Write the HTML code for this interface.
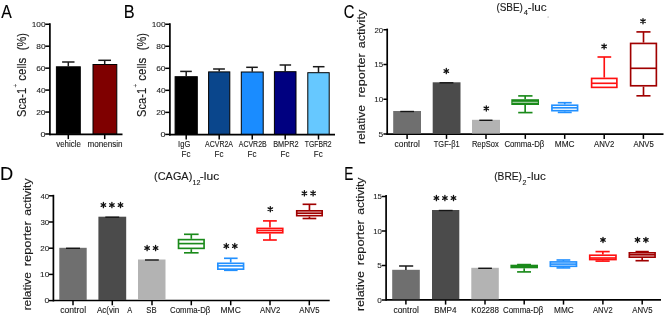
<!DOCTYPE html>
<html><head><meta charset="utf-8"><title>Figure</title>
<style>
html,body{margin:0;padding:0;background:#fff;}
body{width:668px;height:317px;overflow:hidden;}
svg{display:block;font-family:"Liberation Sans", sans-serif;will-change:transform;}
</style></head>
<body>
<svg width="668" height="317" viewBox="0 0 668 317">
<rect x="0" y="0" width="668" height="317" fill="#fff"/>
<text x="1.27" y="17.7" font-size="17.5" fill="#000" stroke="#000" stroke-width="0.1" textLength="10.56" lengthAdjust="spacingAndGlyphs">A</text>
<text transform="rotate(-90)" x="-116.9" y="25.7" font-size="12.2" fill="#1a1a1a" stroke="#1a1a1a" stroke-width="0.15" textLength="29.05" lengthAdjust="spacingAndGlyphs">Sca-1</text>
<text x="0" y="0" font-size="6.5" fill="#222" transform="translate(18.3,87.6) rotate(-90)">+</text>
<text transform="rotate(-90)" x="-80.69" y="25.7" font-size="12.2" fill="#1a1a1a" stroke="#1a1a1a" stroke-width="0.15" textLength="23" lengthAdjust="spacingAndGlyphs">cells</text>
<text transform="rotate(-90)" x="-50.28" y="25.9" font-size="12.8" fill="#1a1a1a" stroke="#1a1a1a" stroke-width="0.15" textLength="17.06" lengthAdjust="spacingAndGlyphs">(%)</text>
<line x1="49.9" y1="23.3" x2="49.9" y2="135.2" stroke="#000" stroke-width="1.7" stroke-linecap="butt"/>
<line x1="45.2" y1="134" x2="49.9" y2="134" stroke="#000" stroke-width="1.5" stroke-linecap="butt"/>
<line x1="45.2" y1="112.05" x2="49.9" y2="112.05" stroke="#000" stroke-width="1.5" stroke-linecap="butt"/>
<line x1="45.2" y1="90.1" x2="49.9" y2="90.1" stroke="#000" stroke-width="1.5" stroke-linecap="butt"/>
<line x1="45.2" y1="68.15" x2="49.9" y2="68.15" stroke="#000" stroke-width="1.5" stroke-linecap="butt"/>
<line x1="45.2" y1="46.2" x2="49.9" y2="46.2" stroke="#000" stroke-width="1.5" stroke-linecap="butt"/>
<line x1="45.2" y1="24.25" x2="49.9" y2="24.25" stroke="#000" stroke-width="1.5" stroke-linecap="butt"/>
<text x="40.55" y="136.75" font-size="8" fill="#222" stroke="#222" stroke-width="0.08" textLength="5" lengthAdjust="spacingAndGlyphs">0</text>
<text x="36.18" y="114.8" font-size="8" fill="#222" stroke="#222" stroke-width="0.08" textLength="9.35" lengthAdjust="spacingAndGlyphs">20</text>
<text x="36.41" y="92.85" font-size="8" fill="#222" stroke="#222" stroke-width="0.08" textLength="9.11" lengthAdjust="spacingAndGlyphs">40</text>
<text x="36.17" y="70.9" font-size="8" fill="#222" stroke="#222" stroke-width="0.08" textLength="9.36" lengthAdjust="spacingAndGlyphs">60</text>
<text x="36.24" y="48.95" font-size="8" fill="#222" stroke="#222" stroke-width="0.08" textLength="9.29" lengthAdjust="spacingAndGlyphs">80</text>
<text x="31.67" y="27" font-size="8" fill="#222" stroke="#222" stroke-width="0.08" textLength="13.86" lengthAdjust="spacingAndGlyphs">100</text>
<line x1="49.2" y1="134.3" x2="122.5" y2="134.3" stroke="#000" stroke-width="1.7" stroke-linecap="butt"/>
<line x1="68.3" y1="134.3" x2="68.3" y2="139.1" stroke="#000" stroke-width="1.5" stroke-linecap="butt"/>
<line x1="104.7" y1="134.3" x2="104.7" y2="139.1" stroke="#000" stroke-width="1.5" stroke-linecap="butt"/>
<rect x="56.4" y="66.8" width="23.9" height="67" fill="#000" stroke="#000" stroke-width="1"/>
<line x1="68.3" y1="62" x2="68.3" y2="66.5" stroke="#1a1a1a" stroke-width="1.5" stroke-linecap="butt"/>
<line x1="62.1" y1="62" x2="74.5" y2="62" stroke="#1a1a1a" stroke-width="1.5" stroke-linecap="butt"/>
<rect x="93" y="64.5" width="23.8" height="69.3" fill="#7f0000" stroke="#000" stroke-width="1"/>
<line x1="104.7" y1="60.3" x2="104.7" y2="64.2" stroke="#1a1a1a" stroke-width="1.5" stroke-linecap="butt"/>
<line x1="98.3" y1="60.3" x2="111" y2="60.3" stroke="#1a1a1a" stroke-width="1.5" stroke-linecap="butt"/>
<text x="56.27" y="146.7" font-size="8.8" fill="#1a1a1a" stroke="#1a1a1a" stroke-width="0.12" textLength="24.58" lengthAdjust="spacingAndGlyphs">vehicle</text>
<text x="87.46" y="146.7" font-size="8.8" fill="#1a1a1a" stroke="#1a1a1a" stroke-width="0.12" textLength="35.06" lengthAdjust="spacingAndGlyphs">monensin</text>
<text x="123.76" y="17.7" font-size="17.5" fill="#000" stroke="#000" stroke-width="0.1" textLength="10.9" lengthAdjust="spacingAndGlyphs">B</text>
<text transform="rotate(-90)" x="-116.9" y="145.7" font-size="12.2" fill="#1a1a1a" stroke="#1a1a1a" stroke-width="0.15" textLength="29.05" lengthAdjust="spacingAndGlyphs">Sca-1</text>
<text x="0" y="0" font-size="6.5" fill="#222" transform="translate(138.3,87.6) rotate(-90)">+</text>
<text transform="rotate(-90)" x="-80.69" y="145.7" font-size="12.2" fill="#1a1a1a" stroke="#1a1a1a" stroke-width="0.15" textLength="23" lengthAdjust="spacingAndGlyphs">cells</text>
<text transform="rotate(-90)" x="-50.28" y="145.9" font-size="12.8" fill="#1a1a1a" stroke="#1a1a1a" stroke-width="0.15" textLength="17.06" lengthAdjust="spacingAndGlyphs">(%)</text>
<line x1="169.9" y1="23.3" x2="169.9" y2="135.6" stroke="#000" stroke-width="1.7" stroke-linecap="butt"/>
<line x1="165.2" y1="134.4" x2="169.9" y2="134.4" stroke="#000" stroke-width="1.5" stroke-linecap="butt"/>
<line x1="165.2" y1="112.37" x2="169.9" y2="112.37" stroke="#000" stroke-width="1.5" stroke-linecap="butt"/>
<line x1="165.2" y1="90.34" x2="169.9" y2="90.34" stroke="#000" stroke-width="1.5" stroke-linecap="butt"/>
<line x1="165.2" y1="68.31" x2="169.9" y2="68.31" stroke="#000" stroke-width="1.5" stroke-linecap="butt"/>
<line x1="165.2" y1="46.28" x2="169.9" y2="46.28" stroke="#000" stroke-width="1.5" stroke-linecap="butt"/>
<line x1="165.2" y1="24.25" x2="169.9" y2="24.25" stroke="#000" stroke-width="1.5" stroke-linecap="butt"/>
<text x="160.55" y="137.15" font-size="8" fill="#222" stroke="#222" stroke-width="0.08" textLength="5" lengthAdjust="spacingAndGlyphs">0</text>
<text x="156.18" y="115.12" font-size="8" fill="#222" stroke="#222" stroke-width="0.08" textLength="9.35" lengthAdjust="spacingAndGlyphs">20</text>
<text x="156.41" y="93.09" font-size="8" fill="#222" stroke="#222" stroke-width="0.08" textLength="9.11" lengthAdjust="spacingAndGlyphs">40</text>
<text x="156.17" y="71.06" font-size="8" fill="#222" stroke="#222" stroke-width="0.08" textLength="9.36" lengthAdjust="spacingAndGlyphs">60</text>
<text x="156.24" y="49.03" font-size="8" fill="#222" stroke="#222" stroke-width="0.08" textLength="9.29" lengthAdjust="spacingAndGlyphs">80</text>
<text x="151.67" y="27" font-size="8" fill="#222" stroke="#222" stroke-width="0.08" textLength="13.86" lengthAdjust="spacingAndGlyphs">100</text>
<line x1="169" y1="134.7" x2="335" y2="134.7" stroke="#000" stroke-width="1.7" stroke-linecap="butt"/>
<line x1="186.2" y1="134.7" x2="186.2" y2="139.5" stroke="#000" stroke-width="1.5" stroke-linecap="butt"/>
<line x1="219.2" y1="134.7" x2="219.2" y2="139.5" stroke="#000" stroke-width="1.5" stroke-linecap="butt"/>
<line x1="252.25" y1="134.7" x2="252.25" y2="139.5" stroke="#000" stroke-width="1.5" stroke-linecap="butt"/>
<line x1="285.2" y1="134.7" x2="285.2" y2="139.5" stroke="#000" stroke-width="1.5" stroke-linecap="butt"/>
<line x1="318.5" y1="134.7" x2="318.5" y2="139.5" stroke="#000" stroke-width="1.5" stroke-linecap="butt"/>
<rect x="175.1" y="76.7" width="22.2" height="57.5" fill="#000" stroke="#000" stroke-width="1"/>
<line x1="186.2" y1="71.4" x2="186.2" y2="76.4" stroke="#1a1a1a" stroke-width="1.5" stroke-linecap="butt"/>
<line x1="180.2" y1="71.4" x2="191.8" y2="71.4" stroke="#1a1a1a" stroke-width="1.5" stroke-linecap="butt"/>
<text x="178.1" y="146.6" font-size="8.8" fill="#1a1a1a" stroke="#1a1a1a" stroke-width="0.12" textLength="12.16" lengthAdjust="spacingAndGlyphs">IgG</text>
<text x="181.55" y="156.6" font-size="8.8" fill="#1a1a1a" stroke="#1a1a1a" stroke-width="0.12" textLength="8.87" lengthAdjust="spacingAndGlyphs">Fc</text>
<rect x="208.6" y="71.9" width="21.2" height="62.3" fill="#0a468c" stroke="#000" stroke-width="1"/>
<line x1="219.2" y1="69" x2="219.2" y2="71.6" stroke="#1a1a1a" stroke-width="1.5" stroke-linecap="butt"/>
<line x1="213.1" y1="69" x2="224.9" y2="69" stroke="#1a1a1a" stroke-width="1.5" stroke-linecap="butt"/>
<text x="205.09" y="146.6" font-size="8.8" fill="#1a1a1a" stroke="#1a1a1a" stroke-width="0.12" textLength="27.93" lengthAdjust="spacingAndGlyphs">ACVR2A</text>
<text x="214.55" y="156.6" font-size="8.8" fill="#1a1a1a" stroke="#1a1a1a" stroke-width="0.12" textLength="8.87" lengthAdjust="spacingAndGlyphs">Fc</text>
<rect x="241.3" y="72" width="21.9" height="62.2" fill="#1a8cff" stroke="#000" stroke-width="1"/>
<line x1="252.25" y1="67.3" x2="252.25" y2="71.7" stroke="#1a1a1a" stroke-width="1.5" stroke-linecap="butt"/>
<line x1="246.2" y1="67.3" x2="257.8" y2="67.3" stroke="#1a1a1a" stroke-width="1.5" stroke-linecap="butt"/>
<text x="238.79" y="146.6" font-size="8.8" fill="#1a1a1a" stroke="#1a1a1a" stroke-width="0.12" textLength="27.88" lengthAdjust="spacingAndGlyphs">ACVR2B</text>
<text x="247.6" y="156.6" font-size="8.8" fill="#1a1a1a" stroke="#1a1a1a" stroke-width="0.12" textLength="8.87" lengthAdjust="spacingAndGlyphs">Fc</text>
<rect x="274.4" y="71.7" width="21.6" height="62.5" fill="#000080" stroke="#000" stroke-width="1"/>
<line x1="285.2" y1="65" x2="285.2" y2="71.4" stroke="#1a1a1a" stroke-width="1.5" stroke-linecap="butt"/>
<line x1="279.6" y1="65" x2="291.1" y2="65" stroke="#1a1a1a" stroke-width="1.5" stroke-linecap="butt"/>
<text x="273.2" y="146.6" font-size="8.8" fill="#1a1a1a" stroke="#1a1a1a" stroke-width="0.12" textLength="25.37" lengthAdjust="spacingAndGlyphs">BMPR2</text>
<text x="280.55" y="156.6" font-size="8.8" fill="#1a1a1a" stroke="#1a1a1a" stroke-width="0.12" textLength="8.87" lengthAdjust="spacingAndGlyphs">Fc</text>
<rect x="307.8" y="72.7" width="21.4" height="61.5" fill="#66c8ff" stroke="#000" stroke-width="1"/>
<line x1="318.5" y1="66.7" x2="318.5" y2="72.4" stroke="#1a1a1a" stroke-width="1.5" stroke-linecap="butt"/>
<line x1="312.9" y1="66.7" x2="324.5" y2="66.7" stroke="#1a1a1a" stroke-width="1.5" stroke-linecap="butt"/>
<text x="304.85" y="146.6" font-size="8.8" fill="#1a1a1a" stroke="#1a1a1a" stroke-width="0.12" textLength="26.79" lengthAdjust="spacingAndGlyphs">TGFBR2</text>
<text x="313.85" y="156.6" font-size="8.8" fill="#1a1a1a" stroke="#1a1a1a" stroke-width="0.12" textLength="8.87" lengthAdjust="spacingAndGlyphs">Fc</text>
<text x="343.85" y="17.6" font-size="17.5" fill="#000" stroke="#000" stroke-width="0.1" textLength="10.61" lengthAdjust="spacingAndGlyphs">C</text>
<text transform="rotate(-90)" x="-144" y="365" font-size="11.5" fill="#1a1a1a" stroke="#1a1a1a" stroke-width="0.15" textLength="38.94" lengthAdjust="spacingAndGlyphs">relative</text>
<text transform="rotate(-90)" x="-97.64" y="365" font-size="11.5" fill="#1a1a1a" stroke="#1a1a1a" stroke-width="0.15" textLength="44.45" lengthAdjust="spacingAndGlyphs">reporter</text>
<text transform="rotate(-90)" x="-48.34" y="365" font-size="11.5" fill="#1a1a1a" stroke="#1a1a1a" stroke-width="0.15" textLength="38.56" lengthAdjust="spacingAndGlyphs">activity</text>
<text x="496.38" y="10.8" font-size="10.2" fill="#1a1a1a" stroke="#1a1a1a" stroke-width="0.12" textLength="26.53" lengthAdjust="spacingAndGlyphs">(SBE)</text>
<text x="523.83" y="14.7" font-size="6.6" fill="#1a1a1a" stroke="#1a1a1a" stroke-width="0.12" textLength="4.19" lengthAdjust="spacingAndGlyphs">4</text>
<text x="527.88" y="10.8" font-size="10.2" fill="#1a1a1a" stroke="#1a1a1a" stroke-width="0.12" textLength="18.83" lengthAdjust="spacingAndGlyphs">-luc</text>
<line x1="387.2" y1="28.6" x2="387.2" y2="134.9" stroke="#000" stroke-width="1.7" stroke-linecap="butt"/>
<line x1="383.4" y1="134" x2="387.2" y2="134" stroke="#000" stroke-width="1.5" stroke-linecap="butt"/>
<line x1="383.4" y1="99.25" x2="387.2" y2="99.25" stroke="#000" stroke-width="1.5" stroke-linecap="butt"/>
<line x1="383.4" y1="64.5" x2="387.2" y2="64.5" stroke="#000" stroke-width="1.5" stroke-linecap="butt"/>
<line x1="383.4" y1="29.75" x2="387.2" y2="29.75" stroke="#000" stroke-width="1.5" stroke-linecap="butt"/>
<text x="378.56" y="136.75" font-size="8" fill="#222" stroke="#222" stroke-width="0.08" textLength="4.69" lengthAdjust="spacingAndGlyphs">5</text>
<text x="374.29" y="102" font-size="8" fill="#222" stroke="#222" stroke-width="0.08" textLength="8.92" lengthAdjust="spacingAndGlyphs">10</text>
<text x="374.29" y="67.25" font-size="8" fill="#222" stroke="#222" stroke-width="0.08" textLength="8.95" lengthAdjust="spacingAndGlyphs">15</text>
<text x="374.51" y="32.5" font-size="8" fill="#222" stroke="#222" stroke-width="0.08" textLength="8.7" lengthAdjust="spacingAndGlyphs">20</text>
<line x1="386.5" y1="134.1" x2="663.5" y2="134.1" stroke="#000" stroke-width="1.7" stroke-linecap="butt"/>
<line x1="407.1" y1="134.1" x2="407.1" y2="138.9" stroke="#000" stroke-width="1.5" stroke-linecap="butt"/>
<line x1="446.5" y1="134.1" x2="446.5" y2="138.9" stroke="#000" stroke-width="1.5" stroke-linecap="butt"/>
<line x1="486" y1="134.1" x2="486" y2="138.9" stroke="#000" stroke-width="1.5" stroke-linecap="butt"/>
<line x1="525.3" y1="134.1" x2="525.3" y2="138.9" stroke="#000" stroke-width="1.5" stroke-linecap="butt"/>
<line x1="564.7" y1="134.1" x2="564.7" y2="138.9" stroke="#000" stroke-width="1.5" stroke-linecap="butt"/>
<line x1="604.2" y1="134.1" x2="604.2" y2="138.9" stroke="#000" stroke-width="1.5" stroke-linecap="butt"/>
<line x1="643.4" y1="134.1" x2="643.4" y2="138.9" stroke="#000" stroke-width="1.5" stroke-linecap="butt"/>
<rect x="393.2" y="111" width="27.8" height="22.5" fill="#6f6f6f"/>
<line x1="400.3" y1="111.5" x2="414" y2="111.5" stroke="#151515" stroke-width="1.4" stroke-linecap="butt"/>
<rect x="432.7" y="82.3" width="27.8" height="51.2" fill="#4b4b4b"/>
<line x1="439.5" y1="82.8" x2="453.4" y2="82.8" stroke="#151515" stroke-width="1.4" stroke-linecap="butt"/>
<rect x="472" y="119.8" width="28" height="13.7" fill="#b3b3b3"/>
<line x1="479.3" y1="120.3" x2="492.5" y2="120.3" stroke="#151515" stroke-width="1.4" stroke-linecap="butt"/>
<line x1="525.15" y1="95.9" x2="525.15" y2="99.2" stroke="#1a8a1a" stroke-width="1.65" stroke-linecap="butt"/>
<line x1="518.2" y1="95.9" x2="532.5" y2="95.9" stroke="#1a8a1a" stroke-width="1.65" stroke-linecap="butt"/>
<line x1="525.15" y1="105" x2="525.15" y2="112.6" stroke="#1a8a1a" stroke-width="1.65" stroke-linecap="butt"/>
<line x1="518.2" y1="112.6" x2="532.5" y2="112.6" stroke="#1a8a1a" stroke-width="1.65" stroke-linecap="butt"/>
<rect x="512.12" y="100.03" width="26.05" height="4.15" fill="#1a8a1a" stroke="#1a8a1a" stroke-width="1.65"/>
<line x1="512.12" y1="101.8" x2="538.17" y2="101.8" stroke="#1a8a1a" stroke-width="1.65" stroke-linecap="butt"/>
<line x1="512.5" y1="102.3" x2="537.8" y2="102.3" stroke="#cfe6cf" stroke-width="0.9" stroke-linecap="butt"/>
<line x1="564.75" y1="102.7" x2="564.75" y2="104.4" stroke="#2290ff" stroke-width="1.65" stroke-linecap="butt"/>
<line x1="557.8" y1="102.7" x2="571.7" y2="102.7" stroke="#2290ff" stroke-width="1.65" stroke-linecap="butt"/>
<line x1="564.75" y1="111.5" x2="564.75" y2="112.4" stroke="#2290ff" stroke-width="1.65" stroke-linecap="butt"/>
<line x1="557.8" y1="112.4" x2="571.7" y2="112.4" stroke="#2290ff" stroke-width="1.65" stroke-linecap="butt"/>
<rect x="551.93" y="105.23" width="25.65" height="5.45" fill="none" stroke="#2290ff" stroke-width="1.65"/>
<line x1="551.93" y1="107.8" x2="577.57" y2="107.8" stroke="#2290ff" stroke-width="1.65" stroke-linecap="butt"/>
<line x1="604.25" y1="57" x2="604.25" y2="77.6" stroke="#ff1010" stroke-width="1.65" stroke-linecap="butt"/>
<line x1="597.5" y1="57" x2="611.2" y2="57" stroke="#ff1010" stroke-width="1.65" stroke-linecap="butt"/>
<rect x="591.62" y="78.42" width="25.25" height="8.95" fill="none" stroke="#ff1010" stroke-width="1.65"/>
<line x1="591.62" y1="83.3" x2="616.88" y2="83.3" stroke="#ff1010" stroke-width="1.65" stroke-linecap="butt"/>
<line x1="643.5" y1="31.9" x2="643.5" y2="42.6" stroke="#a00000" stroke-width="1.65" stroke-linecap="butt"/>
<line x1="636.4" y1="31.9" x2="650.5" y2="31.9" stroke="#a00000" stroke-width="1.65" stroke-linecap="butt"/>
<line x1="643.5" y1="86.6" x2="643.5" y2="95.8" stroke="#a00000" stroke-width="1.65" stroke-linecap="butt"/>
<line x1="636.4" y1="95.8" x2="650.5" y2="95.8" stroke="#a00000" stroke-width="1.65" stroke-linecap="butt"/>
<rect x="630.62" y="43.43" width="25.75" height="42.35" fill="none" stroke="#a00000" stroke-width="1.65"/>
<line x1="630.62" y1="68.3" x2="656.38" y2="68.3" stroke="#a00000" stroke-width="1.65" stroke-linecap="butt"/>
<path d="M446.3 73.7L446.3 68.5M444.05 72.4L448.55 69.8M444.05 69.8L448.55 72.4" stroke="#111" stroke-width="1.3" stroke-linecap="round" fill="none"/>
<path d="M486.3 111L486.3 105.8M484.05 109.7L488.55 107.1M484.05 107.1L488.55 109.7" stroke="#111" stroke-width="1.3" stroke-linecap="round" fill="none"/>
<path d="M604.1 49L604.1 43.8M601.85 47.7L606.35 45.1M601.85 45.1L606.35 47.7" stroke="#111" stroke-width="1.3" stroke-linecap="round" fill="none"/>
<path d="M643 23.8L643 18.6M640.75 22.5L645.25 19.9M640.75 19.9L645.25 22.5" stroke="#111" stroke-width="1.3" stroke-linecap="round" fill="none"/>
<circle cx="548.1" cy="17" r="0.6" fill="#888"/>
<text x="394.54" y="146.9" font-size="8.8" fill="#1a1a1a" stroke="#1a1a1a" stroke-width="0.12" textLength="25.22" lengthAdjust="spacingAndGlyphs">control</text>
<text x="433.83" y="146.9" font-size="8.8" fill="#1a1a1a" stroke="#1a1a1a" stroke-width="0.12" textLength="25.73" lengthAdjust="spacingAndGlyphs">TGF-β1</text>
<text x="471.88" y="146.9" font-size="8.8" fill="#1a1a1a" stroke="#1a1a1a" stroke-width="0.12" textLength="26.9" lengthAdjust="spacingAndGlyphs">RepSox</text>
<text x="504.41" y="146.9" font-size="8.8" fill="#1a1a1a" stroke="#1a1a1a" stroke-width="0.12" textLength="39.9" lengthAdjust="spacingAndGlyphs">Comma-Dβ</text>
<text x="554.82" y="146.9" font-size="8.8" fill="#1a1a1a" stroke="#1a1a1a" stroke-width="0.12" textLength="19.8" lengthAdjust="spacingAndGlyphs">MMC</text>
<text x="593.98" y="146.9" font-size="8.8" fill="#1a1a1a" stroke="#1a1a1a" stroke-width="0.12" textLength="20.41" lengthAdjust="spacingAndGlyphs">ANV2</text>
<text x="633.48" y="146.9" font-size="8.8" fill="#1a1a1a" stroke="#1a1a1a" stroke-width="0.12" textLength="20.34" lengthAdjust="spacingAndGlyphs">ANV5</text>
<text x="-0.1" y="179.5" font-size="17.5" fill="#000" stroke="#000" stroke-width="0.1" textLength="13.17" lengthAdjust="spacingAndGlyphs">D</text>
<text transform="rotate(-90)" x="-310.39" y="30.7" font-size="11.5" fill="#1a1a1a" stroke="#1a1a1a" stroke-width="0.15" textLength="38.21" lengthAdjust="spacingAndGlyphs">relative</text>
<text transform="rotate(-90)" x="-266.25" y="30.7" font-size="11.5" fill="#1a1a1a" stroke="#1a1a1a" stroke-width="0.15" textLength="44.97" lengthAdjust="spacingAndGlyphs">reporter</text>
<text transform="rotate(-90)" x="-215.72" y="30.7" font-size="11.5" fill="#1a1a1a" stroke="#1a1a1a" stroke-width="0.15" textLength="37.24" lengthAdjust="spacingAndGlyphs">activity</text>
<text x="154.12" y="180.2" font-size="10.2" fill="#1a1a1a" stroke="#1a1a1a" stroke-width="0.12" textLength="38.15" lengthAdjust="spacingAndGlyphs">(CAGA)</text>
<text x="192.46" y="184.6" font-size="6.4" fill="#1a1a1a" stroke="#1a1a1a" stroke-width="0.12" textLength="7.9" lengthAdjust="spacingAndGlyphs">12</text>
<text x="199.87" y="180.2" font-size="10.2" fill="#1a1a1a" stroke="#1a1a1a" stroke-width="0.12" textLength="19.35" lengthAdjust="spacingAndGlyphs">-luc</text>
<line x1="53.4" y1="194.8" x2="53.4" y2="301.4" stroke="#000" stroke-width="1.7" stroke-linecap="butt"/>
<line x1="48.9" y1="300.6" x2="53.4" y2="300.6" stroke="#000" stroke-width="1.5" stroke-linecap="butt"/>
<line x1="48.9" y1="274.4" x2="53.4" y2="274.4" stroke="#000" stroke-width="1.5" stroke-linecap="butt"/>
<line x1="48.9" y1="248.2" x2="53.4" y2="248.2" stroke="#000" stroke-width="1.5" stroke-linecap="butt"/>
<line x1="48.9" y1="222" x2="53.4" y2="222" stroke="#000" stroke-width="1.5" stroke-linecap="butt"/>
<line x1="48.9" y1="195.8" x2="53.4" y2="195.8" stroke="#000" stroke-width="1.5" stroke-linecap="butt"/>
<text x="44.46" y="303.35" font-size="8" fill="#222" stroke="#222" stroke-width="0.08" textLength="4.77" lengthAdjust="spacingAndGlyphs">0</text>
<text x="40.07" y="277.15" font-size="8" fill="#222" stroke="#222" stroke-width="0.08" textLength="9.15" lengthAdjust="spacingAndGlyphs">10</text>
<text x="40.3" y="250.95" font-size="8" fill="#222" stroke="#222" stroke-width="0.08" textLength="8.92" lengthAdjust="spacingAndGlyphs">20</text>
<text x="40.4" y="224.75" font-size="8" fill="#222" stroke="#222" stroke-width="0.08" textLength="8.81" lengthAdjust="spacingAndGlyphs">30</text>
<text x="40.52" y="198.55" font-size="8" fill="#222" stroke="#222" stroke-width="0.08" textLength="8.68" lengthAdjust="spacingAndGlyphs">40</text>
<line x1="53" y1="300.5" x2="329.7" y2="300.5" stroke="#000" stroke-width="1.7" stroke-linecap="butt"/>
<line x1="73" y1="300.5" x2="73" y2="305.3" stroke="#000" stroke-width="1.5" stroke-linecap="butt"/>
<line x1="112.3" y1="300.5" x2="112.3" y2="305.3" stroke="#000" stroke-width="1.5" stroke-linecap="butt"/>
<line x1="152" y1="300.5" x2="152" y2="305.3" stroke="#000" stroke-width="1.5" stroke-linecap="butt"/>
<line x1="191.3" y1="300.5" x2="191.3" y2="305.3" stroke="#000" stroke-width="1.5" stroke-linecap="butt"/>
<line x1="230.7" y1="300.5" x2="230.7" y2="305.3" stroke="#000" stroke-width="1.5" stroke-linecap="butt"/>
<line x1="270" y1="300.5" x2="270" y2="305.3" stroke="#000" stroke-width="1.5" stroke-linecap="butt"/>
<line x1="309.3" y1="300.5" x2="309.3" y2="305.3" stroke="#000" stroke-width="1.5" stroke-linecap="butt"/>
<rect x="59.3" y="247.8" width="27.4" height="52.2" fill="#6f6f6f"/>
<line x1="66" y1="248.3" x2="80" y2="248.3" stroke="#151515" stroke-width="1.4" stroke-linecap="butt"/>
<rect x="98.4" y="216.7" width="27.8" height="83.3" fill="#4b4b4b"/>
<line x1="105.3" y1="217.2" x2="119.2" y2="217.2" stroke="#151515" stroke-width="1.4" stroke-linecap="butt"/>
<rect x="138" y="259.5" width="27.5" height="40.5" fill="#b3b3b3"/>
<line x1="145" y1="260" x2="158.8" y2="260" stroke="#151515" stroke-width="1.4" stroke-linecap="butt"/>
<line x1="191.3" y1="234.3" x2="191.3" y2="238.8" stroke="#1a8a1a" stroke-width="1.65" stroke-linecap="butt"/>
<line x1="184" y1="234.3" x2="198.6" y2="234.3" stroke="#1a8a1a" stroke-width="1.65" stroke-linecap="butt"/>
<line x1="191.3" y1="249.2" x2="191.3" y2="252.8" stroke="#1a8a1a" stroke-width="1.65" stroke-linecap="butt"/>
<line x1="184" y1="252.8" x2="198.6" y2="252.8" stroke="#1a8a1a" stroke-width="1.65" stroke-linecap="butt"/>
<rect x="178.52" y="239.62" width="25.55" height="8.75" fill="none" stroke="#1a8a1a" stroke-width="1.65"/>
<line x1="178.52" y1="243.6" x2="204.08" y2="243.6" stroke="#1a8a1a" stroke-width="1.65" stroke-linecap="butt"/>
<line x1="230.7" y1="258.3" x2="230.7" y2="262.5" stroke="#2290ff" stroke-width="1.65" stroke-linecap="butt"/>
<line x1="224" y1="258.3" x2="237.6" y2="258.3" stroke="#2290ff" stroke-width="1.65" stroke-linecap="butt"/>
<line x1="230.7" y1="270" x2="230.7" y2="270.3" stroke="#2290ff" stroke-width="1.65" stroke-linecap="butt"/>
<line x1="224" y1="270.3" x2="237.6" y2="270.3" stroke="#2290ff" stroke-width="1.65" stroke-linecap="butt"/>
<rect x="217.82" y="263.32" width="25.75" height="5.85" fill="none" stroke="#2290ff" stroke-width="1.65"/>
<line x1="217.82" y1="265.9" x2="243.58" y2="265.9" stroke="#2290ff" stroke-width="1.65" stroke-linecap="butt"/>
<line x1="269.95" y1="220.9" x2="269.95" y2="227.6" stroke="#ff1010" stroke-width="1.65" stroke-linecap="butt"/>
<line x1="263" y1="220.9" x2="276.8" y2="220.9" stroke="#ff1010" stroke-width="1.65" stroke-linecap="butt"/>
<line x1="269.95" y1="233.6" x2="269.95" y2="240" stroke="#ff1010" stroke-width="1.65" stroke-linecap="butt"/>
<line x1="263" y1="240" x2="276.8" y2="240" stroke="#ff1010" stroke-width="1.65" stroke-linecap="butt"/>
<rect x="257.12" y="228.42" width="25.65" height="4.35" fill="none" stroke="#ff1010" stroke-width="1.65"/>
<line x1="257.12" y1="230.5" x2="282.78" y2="230.5" stroke="#ff1010" stroke-width="1.65" stroke-linecap="butt"/>
<line x1="309.45" y1="204.3" x2="309.45" y2="210" stroke="#a00000" stroke-width="1.65" stroke-linecap="butt"/>
<line x1="302.6" y1="204.3" x2="316.3" y2="204.3" stroke="#a00000" stroke-width="1.65" stroke-linecap="butt"/>
<line x1="309.45" y1="216.5" x2="309.45" y2="218.5" stroke="#a00000" stroke-width="1.65" stroke-linecap="butt"/>
<line x1="302.6" y1="218.5" x2="316.3" y2="218.5" stroke="#a00000" stroke-width="1.65" stroke-linecap="butt"/>
<rect x="296.72" y="210.82" width="25.45" height="4.85" fill="none" stroke="#a00000" stroke-width="1.65"/>
<line x1="296.72" y1="213.2" x2="322.18" y2="213.2" stroke="#a00000" stroke-width="1.65" stroke-linecap="butt"/>
<path d="M103.4 207.7L103.4 202.5M101.15 206.4L105.65 203.8M101.15 203.8L105.65 206.4" stroke="#111" stroke-width="1.3" stroke-linecap="round" fill="none"/>
<path d="M111.9 207.7L111.9 202.5M109.65 206.4L114.15 203.8M109.65 203.8L114.15 206.4" stroke="#111" stroke-width="1.3" stroke-linecap="round" fill="none"/>
<path d="M120.5 207.7L120.5 202.5M118.25 206.4L122.75 203.8M118.25 203.8L122.75 206.4" stroke="#111" stroke-width="1.3" stroke-linecap="round" fill="none"/>
<path d="M147.1 250.7L147.1 245.5M144.85 249.4L149.35 246.8M144.85 246.8L149.35 249.4" stroke="#111" stroke-width="1.3" stroke-linecap="round" fill="none"/>
<path d="M155.6 250.7L155.6 245.5M153.35 249.4L157.85 246.8M153.35 246.8L157.85 249.4" stroke="#111" stroke-width="1.3" stroke-linecap="round" fill="none"/>
<path d="M226.3 248.7L226.3 243.5M224.05 247.4L228.55 244.8M224.05 244.8L228.55 247.4" stroke="#111" stroke-width="1.3" stroke-linecap="round" fill="none"/>
<path d="M234.8 248.7L234.8 243.5M232.55 247.4L237.05 244.8M232.55 244.8L237.05 247.4" stroke="#111" stroke-width="1.3" stroke-linecap="round" fill="none"/>
<path d="M270.3 211.8L270.3 206.6M268.05 210.5L272.55 207.9M268.05 207.9L272.55 210.5" stroke="#111" stroke-width="1.3" stroke-linecap="round" fill="none"/>
<path d="M304.4 195.9L304.4 190.7M302.15 194.6L306.65 192M302.15 192L306.65 194.6" stroke="#111" stroke-width="1.3" stroke-linecap="round" fill="none"/>
<path d="M313.1 195.9L313.1 190.7M310.85 194.6L315.35 192M310.85 192L315.35 194.6" stroke="#111" stroke-width="1.3" stroke-linecap="round" fill="none"/>
<text x="60.13" y="313.1" font-size="8.8" fill="#1a1a1a" stroke="#1a1a1a" stroke-width="0.12" textLength="25.95" lengthAdjust="spacingAndGlyphs">control</text>
<text x="96.88" y="313.1" font-size="8.8" fill="#1a1a1a" stroke="#1a1a1a" stroke-width="0.12" textLength="22.34" lengthAdjust="spacingAndGlyphs">Ac(vin</text>
<text x="127.19" y="313.1" font-size="8.8" fill="#1a1a1a" stroke="#1a1a1a" stroke-width="0.12" textLength="4.93" lengthAdjust="spacingAndGlyphs">A</text>
<text x="146.35" y="313.1" font-size="8.8" fill="#1a1a1a" stroke="#1a1a1a" stroke-width="0.12" textLength="10.25" lengthAdjust="spacingAndGlyphs">SB</text>
<text x="170.1" y="313.1" font-size="8.8" fill="#1a1a1a" stroke="#1a1a1a" stroke-width="0.12" textLength="40.21" lengthAdjust="spacingAndGlyphs">Comma-Dβ</text>
<text x="220.5" y="313.1" font-size="8.8" fill="#1a1a1a" stroke="#1a1a1a" stroke-width="0.12" textLength="20.32" lengthAdjust="spacingAndGlyphs">MMC</text>
<text x="259.98" y="313.1" font-size="8.8" fill="#1a1a1a" stroke="#1a1a1a" stroke-width="0.12" textLength="20.41" lengthAdjust="spacingAndGlyphs">ANV2</text>
<text x="299.28" y="313.1" font-size="8.8" fill="#1a1a1a" stroke="#1a1a1a" stroke-width="0.12" textLength="20.24" lengthAdjust="spacingAndGlyphs">ANV5</text>
<text x="344.18" y="180.3" font-size="17.5" fill="#000" stroke="#000" stroke-width="0.1" textLength="9.11" lengthAdjust="spacingAndGlyphs">E</text>
<text transform="rotate(-90)" x="-311.02" y="364.3" font-size="11.5" fill="#1a1a1a" stroke="#1a1a1a" stroke-width="0.15" textLength="39.77" lengthAdjust="spacingAndGlyphs">relative</text>
<text transform="rotate(-90)" x="-265.15" y="364.3" font-size="11.5" fill="#1a1a1a" stroke="#1a1a1a" stroke-width="0.15" textLength="44.97" lengthAdjust="spacingAndGlyphs">reporter</text>
<text transform="rotate(-90)" x="-214.82" y="364.3" font-size="11.5" fill="#1a1a1a" stroke="#1a1a1a" stroke-width="0.15" textLength="37.24" lengthAdjust="spacingAndGlyphs">activity</text>
<text x="494.17" y="180.2" font-size="10.2" fill="#1a1a1a" stroke="#1a1a1a" stroke-width="0.12" textLength="27.87" lengthAdjust="spacingAndGlyphs">(BRE)</text>
<text x="522.45" y="184.6" font-size="6.4" fill="#1a1a1a" stroke="#1a1a1a" stroke-width="0.12" textLength="3.91" lengthAdjust="spacingAndGlyphs">2</text>
<text x="527.09" y="180.2" font-size="10.2" fill="#1a1a1a" stroke="#1a1a1a" stroke-width="0.12" textLength="18.62" lengthAdjust="spacingAndGlyphs">-luc</text>
<line x1="386.1" y1="195" x2="386.1" y2="300.8" stroke="#000" stroke-width="1.7" stroke-linecap="butt"/>
<line x1="381.8" y1="300" x2="386.1" y2="300" stroke="#000" stroke-width="1.5" stroke-linecap="butt"/>
<line x1="381.8" y1="265.5" x2="386.1" y2="265.5" stroke="#000" stroke-width="1.5" stroke-linecap="butt"/>
<line x1="381.8" y1="231" x2="386.1" y2="231" stroke="#000" stroke-width="1.5" stroke-linecap="butt"/>
<line x1="381.8" y1="196.5" x2="386.1" y2="196.5" stroke="#000" stroke-width="1.5" stroke-linecap="butt"/>
<text x="377.38" y="302.75" font-size="8" fill="#222" stroke="#222" stroke-width="0.08" textLength="4.54" lengthAdjust="spacingAndGlyphs">0</text>
<text x="377.37" y="268.25" font-size="8" fill="#222" stroke="#222" stroke-width="0.08" textLength="4.57" lengthAdjust="spacingAndGlyphs">5</text>
<text x="373.2" y="233.75" font-size="8" fill="#222" stroke="#222" stroke-width="0.08" textLength="8.7" lengthAdjust="spacingAndGlyphs">10</text>
<text x="373.2" y="199.25" font-size="8" fill="#222" stroke="#222" stroke-width="0.08" textLength="8.73" lengthAdjust="spacingAndGlyphs">15</text>
<line x1="386" y1="299.8" x2="661" y2="299.8" stroke="#000" stroke-width="1.7" stroke-linecap="butt"/>
<line x1="405.9" y1="299.8" x2="405.9" y2="304.6" stroke="#000" stroke-width="1.5" stroke-linecap="butt"/>
<line x1="445.6" y1="299.8" x2="445.6" y2="304.6" stroke="#000" stroke-width="1.5" stroke-linecap="butt"/>
<line x1="485" y1="299.8" x2="485" y2="304.6" stroke="#000" stroke-width="1.5" stroke-linecap="butt"/>
<line x1="524.2" y1="299.8" x2="524.2" y2="304.6" stroke="#000" stroke-width="1.5" stroke-linecap="butt"/>
<line x1="563.5" y1="299.8" x2="563.5" y2="304.6" stroke="#000" stroke-width="1.5" stroke-linecap="butt"/>
<line x1="602.9" y1="299.8" x2="602.9" y2="304.6" stroke="#000" stroke-width="1.5" stroke-linecap="butt"/>
<line x1="642.2" y1="299.8" x2="642.2" y2="304.6" stroke="#000" stroke-width="1.5" stroke-linecap="butt"/>
<rect x="392.2" y="269.8" width="27.6" height="29.5" fill="#6f6f6f"/>
<line x1="405.9" y1="266" x2="405.9" y2="270" stroke="#1a1a1a" stroke-width="1.5" stroke-linecap="butt"/>
<line x1="399.1" y1="266" x2="413.2" y2="266" stroke="#1a1a1a" stroke-width="1.5" stroke-linecap="butt"/>
<rect x="432" y="210" width="27.3" height="89.3" fill="#4b4b4b"/>
<line x1="438.8" y1="210.5" x2="452.6" y2="210.5" stroke="#151515" stroke-width="1.4" stroke-linecap="butt"/>
<rect x="471.3" y="267.8" width="27.5" height="31.5" fill="#b3b3b3"/>
<line x1="478.2" y1="268.3" x2="491.9" y2="268.3" stroke="#151515" stroke-width="1.4" stroke-linecap="butt"/>
<line x1="524.2" y1="264.6" x2="524.2" y2="264.7" stroke="#1a8a1a" stroke-width="1.65" stroke-linecap="butt"/>
<line x1="517.1" y1="264.6" x2="531" y2="264.6" stroke="#1a8a1a" stroke-width="1.65" stroke-linecap="butt"/>
<line x1="524.2" y1="268.3" x2="524.2" y2="271.9" stroke="#1a8a1a" stroke-width="1.65" stroke-linecap="butt"/>
<line x1="517.1" y1="271.9" x2="531" y2="271.9" stroke="#1a8a1a" stroke-width="1.65" stroke-linecap="butt"/>
<rect x="511.22" y="265.52" width="25.95" height="1.95" fill="#1a8a1a" stroke="#1a8a1a" stroke-width="1.65"/>
<line x1="511.22" y1="266.5" x2="537.17" y2="266.5" stroke="#1a8a1a" stroke-width="1.65" stroke-linecap="butt"/>
<line x1="563.4" y1="260" x2="563.4" y2="261.1" stroke="#2290ff" stroke-width="1.65" stroke-linecap="butt"/>
<line x1="556.5" y1="260" x2="570.3" y2="260" stroke="#2290ff" stroke-width="1.65" stroke-linecap="butt"/>
<line x1="563.4" y1="267.1" x2="563.4" y2="267.9" stroke="#2290ff" stroke-width="1.65" stroke-linecap="butt"/>
<line x1="556.5" y1="267.9" x2="570.3" y2="267.9" stroke="#2290ff" stroke-width="1.65" stroke-linecap="butt"/>
<rect x="550.33" y="261.93" width="26.15" height="4.35" fill="none" stroke="#2290ff" stroke-width="1.65"/>
<line x1="550.33" y1="264.1" x2="576.47" y2="264.1" stroke="#2290ff" stroke-width="1.65" stroke-linecap="butt"/>
<line x1="602.85" y1="251.6" x2="602.85" y2="254.4" stroke="#ff1010" stroke-width="1.65" stroke-linecap="butt"/>
<line x1="595.5" y1="251.6" x2="609.7" y2="251.6" stroke="#ff1010" stroke-width="1.65" stroke-linecap="butt"/>
<line x1="602.85" y1="260.4" x2="602.85" y2="261.1" stroke="#ff1010" stroke-width="1.65" stroke-linecap="butt"/>
<line x1="595.5" y1="261.1" x2="609.7" y2="261.1" stroke="#ff1010" stroke-width="1.65" stroke-linecap="butt"/>
<rect x="589.73" y="255.22" width="26.25" height="4.35" fill="none" stroke="#ff1010" stroke-width="1.65"/>
<line x1="589.73" y1="258" x2="615.97" y2="258" stroke="#ff1010" stroke-width="1.65" stroke-linecap="butt"/>
<line x1="642.2" y1="251.6" x2="642.2" y2="252" stroke="#a00000" stroke-width="1.65" stroke-linecap="butt"/>
<line x1="635.5" y1="251.6" x2="648.8" y2="251.6" stroke="#a00000" stroke-width="1.65" stroke-linecap="butt"/>
<line x1="642.2" y1="258" x2="642.2" y2="260.7" stroke="#a00000" stroke-width="1.65" stroke-linecap="butt"/>
<line x1="635.5" y1="260.7" x2="648.8" y2="260.7" stroke="#a00000" stroke-width="1.65" stroke-linecap="butt"/>
<rect x="629.33" y="252.82" width="25.75" height="4.35" fill="none" stroke="#a00000" stroke-width="1.65"/>
<line x1="629.33" y1="254.8" x2="655.07" y2="254.8" stroke="#a00000" stroke-width="1.65" stroke-linecap="butt"/>
<path d="M436.4 200.7L436.4 195.5M434.15 199.4L438.65 196.8M434.15 196.8L438.65 199.4" stroke="#111" stroke-width="1.3" stroke-linecap="round" fill="none"/>
<path d="M444.9 200.7L444.9 195.5M442.65 199.4L447.15 196.8M442.65 196.8L447.15 199.4" stroke="#111" stroke-width="1.3" stroke-linecap="round" fill="none"/>
<path d="M453.5 200.7L453.5 195.5M451.25 199.4L455.75 196.8M451.25 196.8L455.75 199.4" stroke="#111" stroke-width="1.3" stroke-linecap="round" fill="none"/>
<path d="M603 242.5L603 237.3M600.75 241.2L605.25 238.6M600.75 238.6L605.25 241.2" stroke="#111" stroke-width="1.3" stroke-linecap="round" fill="none"/>
<path d="M637.5 242.5L637.5 237.3M635.25 241.2L639.75 238.6M635.25 238.6L639.75 241.2" stroke="#111" stroke-width="1.3" stroke-linecap="round" fill="none"/>
<path d="M645.9 242.5L645.9 237.3M643.65 241.2L648.15 238.6M643.65 238.6L648.15 241.2" stroke="#111" stroke-width="1.3" stroke-linecap="round" fill="none"/>
<text x="393.44" y="312.9" font-size="8.8" fill="#1a1a1a" stroke="#1a1a1a" stroke-width="0.12" textLength="25.32" lengthAdjust="spacingAndGlyphs">control</text>
<text x="434.33" y="312.9" font-size="8.8" fill="#1a1a1a" stroke="#1a1a1a" stroke-width="0.12" textLength="22.21" lengthAdjust="spacingAndGlyphs">BMP4</text>
<text x="471.34" y="312.9" font-size="8.8" fill="#1a1a1a" stroke="#1a1a1a" stroke-width="0.12" textLength="27.71" lengthAdjust="spacingAndGlyphs">K02288</text>
<text x="503.1" y="312.9" font-size="8.8" fill="#1a1a1a" stroke="#1a1a1a" stroke-width="0.12" textLength="40.21" lengthAdjust="spacingAndGlyphs">Comma-Dβ</text>
<text x="554.12" y="312.9" font-size="8.8" fill="#1a1a1a" stroke="#1a1a1a" stroke-width="0.12" textLength="19.69" lengthAdjust="spacingAndGlyphs">MMC</text>
<text x="592.99" y="312.9" font-size="8.8" fill="#1a1a1a" stroke="#1a1a1a" stroke-width="0.12" textLength="19.69" lengthAdjust="spacingAndGlyphs">ANV2</text>
<text x="632.28" y="312.9" font-size="8.8" fill="#1a1a1a" stroke="#1a1a1a" stroke-width="0.12" textLength="20.34" lengthAdjust="spacingAndGlyphs">ANV5</text>
</svg>
</body></html>
